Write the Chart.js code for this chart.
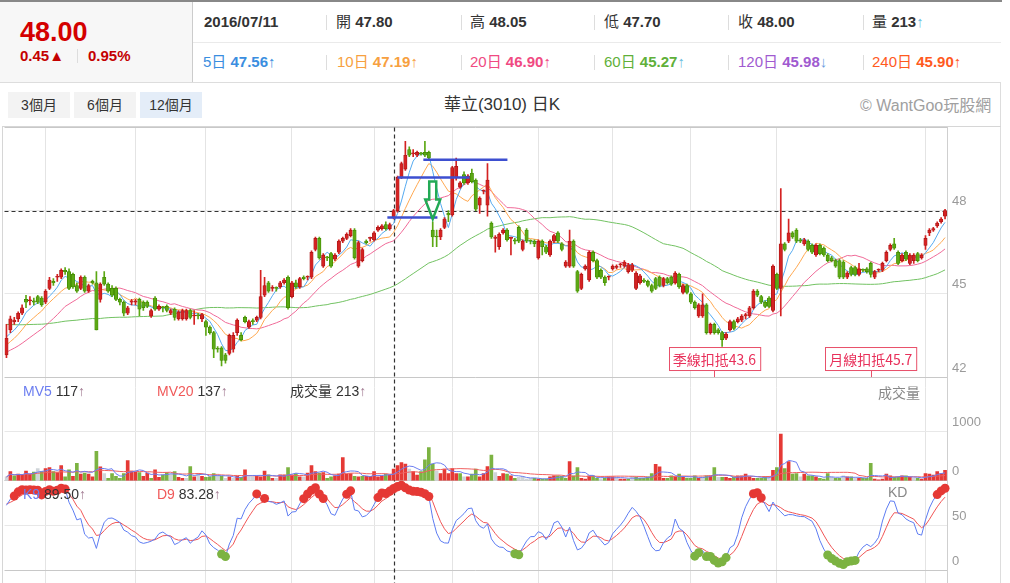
<!DOCTYPE html>
<html lang="zh-Hant">
<head>
<meta charset="UTF-8">
<title>華立(3010) 日K</title>
<script src="https://cdn.jsdelivr.net/npm/chart.js"></script>
<style>
  body { margin: 0; width: 1010px; height: 583px; overflow: hidden; background: #fff; position: relative;
         font-family: "Liberation Sans", "Noto Sans CJK TC", sans-serif; color: #333; }
  .abs { position: absolute; white-space: nowrap; }
  .r1 { top: 12px; line-height: 20px; font-size: 15px; }
  .r2 { top: 52px; line-height: 20px; font-size: 15px; }
  .r1 b, .r2 b { font-weight: bold; }
  .sep { position: absolute; width: 1px; height: 15px; background: #ddd; }
  .btn { position: absolute; top: 92px; width: 62px; height: 26px; line-height: 26px; text-align: center;
         font-size: 14px; background: #f3f3f3; color: #333; }
  .pl { position: absolute; white-space: nowrap; font-size: 14px; line-height: 16px; color: #333; }
  .ar { color: #a07890; }
</style>
</head>
<body>
<!-- header -->
<div class="abs" style="left:0;top:0;width:1002px;height:2px;background:#888"></div>
<div class="abs" style="left:0;top:2px;width:192px;height:80px;background:#f7f7f7;border-right:1px solid #ccc"></div>
<div class="abs" style="left:0;top:82px;width:1001px;height:1px;background:#ddd"></div>
<div class="abs" style="left:193px;top:42px;width:808px;height:1px;background:#eaeaea"></div>
<div class="abs" style="left:1000px;top:82px;width:1px;height:501px;background:#ddd"></div>

<div class="abs" style="left:20px;top:15px;line-height:34px;font-size:27px;font-weight:bold;color:#d40000">48.00</div>
<div class="abs" style="left:20px;top:46px;line-height:20px;font-size:15px;font-weight:bold;color:#c40000">0.45▲</div>
<div class="abs" style="left:77px;top:49px;width:1px;height:14px;background:#ddd"></div>
<div class="abs" style="left:88px;top:46px;line-height:20px;font-size:15px;font-weight:bold;color:#c40000">0.95%</div>

<div class="abs r1" style="left:204px"><b>2016/07/11</b></div>
<div class="abs r1" style="left:336px">開 <b>47.80</b></div>
<div class="abs r1" style="left:470px">高 <b>48.05</b></div>
<div class="abs r1" style="left:604px">低 <b>47.70</b></div>
<div class="abs r1" style="left:738px">收 <b>48.00</b></div>
<div class="abs r1" style="left:872px">量 <b>213</b><span style="color:#6bbde0">↑</span></div>

<div class="abs r2" style="left:203px;color:#3a8ee0">5日 <b>47.56</b>↑</div>
<div class="abs r2" style="left:337px;color:#f7a040">10日 <b>47.19</b>↑</div>
<div class="abs r2" style="left:470px;color:#f04a82">20日 <b>46.90</b>↑</div>
<div class="abs r2" style="left:604px;color:#5fb03a">60日 <b>45.27</b><span style="color:#6bbde0">↑</span></div>
<div class="abs r2" style="left:738px;color:#a05ad0">120日 <b>45.98</b><span style="color:#6b9de0">↓</span></div>
<div class="abs r2" style="left:872px;color:#ff5a1e">240日 <b>45.90</b>↑</div>

<div class="sep" style="left:326px;top:15px"></div><div class="sep" style="left:461px;top:15px"></div>
<div class="sep" style="left:594px;top:15px"></div><div class="sep" style="left:728px;top:15px"></div>
<div class="sep" style="left:863px;top:15px"></div>
<div class="sep" style="left:326px;top:55px"></div><div class="sep" style="left:461px;top:55px"></div>
<div class="sep" style="left:594px;top:55px"></div><div class="sep" style="left:728px;top:55px"></div>
<div class="sep" style="left:863px;top:55px"></div>

<div class="btn" style="left:8px">3個月</div>
<div class="btn" style="left:74px">6個月</div>
<div class="btn" style="left:140px;background:#e4edf8">12個月</div>
<div class="abs" style="left:0;width:1004px;top:95px;line-height:20px;font-size:17px;text-align:center;color:#333">華立(3010) 日K</div>
<div class="abs" style="left:860px;top:96px;line-height:20px;font-size:16px;color:#a0a0a0">© WantGoo玩股網</div>

<!-- chart frame -->
<div class="abs" style="left:2px;top:126px;width:999px;height:1px;background:#d6d6d6"></div>
<div class="abs" style="left:2px;top:126px;width:1px;height:457px;background:#d6d6d6"></div>
<div class="abs" style="left:0;top:123px"><canvas id="kchart" width="1000" height="528"></canvas></div>

<!-- panel labels -->
<div class="pl" style="left:23px;top:383px"><span style="color:#6c7ef0">MV5</span> 117<span class="ar">↑</span></div>
<div class="pl" style="left:157px;top:383px"><span style="color:#f05a5a">MV20</span> 137<span class="ar">↑</span></div>
<div class="pl" style="left:290px;top:383px">成交量 213<span class="ar">↑</span></div>
<div class="pl" style="left:878px;top:385px;color:#888">成交量</div>
<div class="pl" style="left:23px;top:486px"><span style="color:#6c7ef0">K9</span> 89.50<span class="ar">↑</span></div>
<div class="pl" style="left:157px;top:486px"><span style="color:#f05a5a">D9</span> 83.28<span class="ar">↑</span></div>
<div class="pl" style="left:888px;top:484px;color:#888">KD</div>

<script>
// daily OHLC, 2015/07 - 2016/07/11
const opens = [
  42.8,43.7,44.0,44.1,44.3,44.8,44.75,44.75,44.9,44.85,
  44.7,45.2,45.45,45.6,45.6,45.85,45.8,45.7,45.3,45.2,
  45.6,45.1,45.45,45.4,44.8,45.6,45.35,45.2,45.2,44.8,
  44.7,44.3,44.7,44.7,44.8,44.7,44.7,44.2,44.85,44.45,
  44.5,44.55,44.3,44.45,44.1,44.1,44.1,44.4,44.2,44.2,
  44.1,44.0,43.8,43.6,43.0,43.05,42.8,42.85,43.0,43.6,
  43.5,44.15,43.8,44.0,44.05,44.15,44.95,45.4,45.2,45.2,
  45.25,45.4,45.6,44.9,45.4,45.25,45.6,45.6,45.6,46.6,
  47.0,46.0,46.3,46.45,46.25,46.5,46.9,47.0,47.1,47.3,
  46.0,46.2,46.9,47.0,46.95,47.3,47.35,47.5,47.35,47.75,
  48.0,49.2,49.5,50.2,50.05,50.0,50.05,50.1,50.1,47.3,
  47.05,47.05,47.4,47.9,47.85,49.2,48.85,49.3,49.0,49.35,
  49.1,48.2,48.7,48.2,47.55,47.0,46.7,47.2,47.3,47.0,
  46.95,47.4,46.6,47.3,46.9,46.9,46.3,46.9,46.7,46.4,
  46.9,47.2,46.8,46.0,46.0,46.9,45.8,45.2,45.9,45.5,
  46.5,46.2,45.85,45.6,45.6,45.9,45.95,46.05,46.0,45.8,
  45.85,45.2,45.4,45.5,45.45,45.3,45.55,45.6,45.3,45.55,
  45.6,45.4,45.7,45.05,45.3,45.0,44.7,44.2,44.2,44.6,
  43.6,43.9,43.7,43.6,43.4,43.7,44.0,44.0,44.05,44.2,
  44.2,44.5,45.1,44.9,44.7,44.85,44.4,45.7,45.2,46.8,
  46.9,47.2,47.3,46.95,46.8,46.9,46.75,46.4,46.75,46.65,
  46.4,46.3,46.2,46.2,46.15,45.6,45.95,45.95,45.7,45.85,
  45.9,46.1,45.6,45.85,45.85,46.2,46.6,46.8,46.5,46.2,
  46.5,46.1,46.2,46.45,46.3,46.75,47.2,47.3,47.45,47.6,47.8
];
const highs = [
  43.9,44.2,44.15,44.35,44.6,44.95,44.9,44.85,44.95,44.9,
  45.15,45.6,45.55,45.7,45.9,45.95,45.9,45.75,45.4,45.65,
  45.65,45.35,45.5,45.8,45.4,45.8,45.4,45.3,45.25,44.85,
  44.75,44.55,44.8,44.8,44.85,44.75,44.75,44.45,44.9,44.6,
  44.55,44.6,44.45,44.5,44.4,44.45,44.45,44.45,44.4,44.3,
  44.3,44.05,43.85,43.65,43.1,43.1,42.85,43.55,43.6,44.1,
  43.6,44.2,44.05,44.1,44.2,45.85,45.6,45.45,45.3,45.25,
  45.45,45.55,45.65,45.45,45.5,45.6,45.65,45.65,46.55,47.05,
  47.05,46.45,46.35,46.5,46.45,46.95,47.05,47.2,47.35,47.35,
  46.9,46.65,46.95,47.05,47.25,47.45,47.5,47.6,47.55,48.05,
  49.25,49.75,50.5,50.3,50.2,50.15,50.1,50.5,50.15,47.6,
  47.3,47.35,47.75,48.0,49.6,49.9,49.05,49.4,49.3,49.5,
  49.15,48.5,48.75,49.7,47.6,47.1,47.2,47.35,47.35,47.05,
  47.0,47.45,46.95,47.35,46.95,46.95,46.95,46.95,46.75,46.95,
  47.15,47.25,46.85,46.2,47.3,46.95,45.85,45.75,46.05,46.55,
  46.55,46.25,45.9,45.65,45.65,46.05,46.05,46.1,46.2,46.1,
  46.1,45.8,45.7,45.55,45.5,45.35,45.6,45.65,45.6,45.6,
  45.65,45.8,45.75,45.35,45.35,45.05,44.75,44.65,45.0,44.65,
  43.95,43.95,43.75,43.65,43.6,44.05,44.05,44.15,44.25,44.3,
  44.55,45.15,45.15,44.95,44.75,44.9,46.05,45.75,48.8,46.85,
  47.7,47.25,47.35,47.0,47.0,46.95,46.8,46.8,46.8,46.7,
  46.45,46.35,46.25,46.25,46.2,45.8,46.0,46.0,46.1,45.9,
  45.95,46.15,45.85,45.9,46.15,46.55,46.8,47.0,46.55,46.45,
  46.55,46.45,46.45,46.5,46.45,47.1,47.35,47.4,47.6,47.75,48.05
];
const lows = [
  42.7,43.6,43.9,44.0,44.25,44.5,44.6,44.6,44.65,44.55,
  44.65,45.15,45.3,45.45,45.55,45.7,45.15,45.2,45.05,45.15,
  45.05,45.05,45.35,43.7,44.7,45.3,45.05,44.9,44.75,44.6,
  44.2,44.25,44.6,44.6,44.2,44.4,44.5,44.15,44.4,44.4,
  44.35,44.35,44.25,44.05,44.05,44.05,44.05,44.1,43.9,44.1,
  44.0,43.5,43.55,42.7,42.9,42.4,42.5,42.8,42.9,43.5,
  43.3,43.95,43.75,43.9,44.0,44.1,44.9,45.05,45.1,45.1,
  45.2,45.35,44.45,44.85,45.2,45.2,45.5,45.5,45.55,46.55,
  46.25,45.95,46.2,45.95,46.2,46.45,46.85,46.95,47.05,46.25,
  45.95,46.15,46.8,46.9,46.9,47.25,47.3,47.3,47.3,47.7,
  47.95,49.15,49.45,49.95,49.95,49.95,50.0,49.95,49.85,46.7,
  46.7,46.95,47.35,47.6,47.8,49.1,48.8,48.95,48.95,49.0,
  48.0,47.9,48.6,47.8,47.0,46.5,46.6,47.15,46.9,46.4,
  46.8,46.85,46.55,46.85,46.8,46.7,46.25,46.4,46.45,46.35,
  46.85,46.85,46.55,45.95,45.95,45.95,45.05,45.15,45.85,45.45,
  46.15,45.55,45.55,45.3,45.5,45.85,45.9,45.95,45.95,45.75,
  45.8,45.15,45.35,45.4,45.25,45.05,45.15,45.25,45.25,45.35,
  45.3,45.35,45.2,45.0,45.0,44.65,44.45,44.15,44.15,43.55,
  43.55,43.55,43.55,43.1,43.35,43.65,43.7,43.95,44.0,44.1,
  44.15,44.45,44.9,44.65,44.5,44.5,44.35,45.15,44.2,46.55,
  46.85,47.0,46.85,46.85,46.75,46.55,46.45,46.35,46.4,46.35,
  46.15,46.15,45.95,45.55,45.55,45.55,45.65,45.65,45.65,45.8,
  45.75,45.6,45.55,45.8,45.8,46.15,46.55,46.6,46.05,46.15,
  46.2,46.05,46.1,46.15,46.25,46.6,47.1,47.25,47.4,47.55,47.7
];
const closes = [
  43.4,44.1,44.05,44.3,44.5,44.7,44.75,44.7,44.7,44.6,
  45.1,45.5,45.4,45.6,45.85,45.8,45.2,45.25,45.1,45.6,
  45.1,45.3,45.4,43.7,45.35,45.35,45.1,44.95,44.8,44.7,
  44.3,44.5,44.7,44.75,44.45,44.5,44.55,44.4,44.45,44.55,
  44.5,44.4,44.4,44.15,44.35,44.4,44.4,44.15,44.2,44.2,
  44.25,43.8,43.6,43.0,43.0,42.6,42.6,43.5,43.5,44.05,
  43.35,44.0,44.0,44.0,44.15,44.9,45.3,45.1,45.2,45.2,
  45.4,45.5,44.5,45.4,45.25,45.55,45.55,45.6,46.5,47.0,
  46.3,46.4,46.3,46.0,46.4,46.9,47.0,47.15,47.3,46.3,
  46.85,46.6,46.85,47.0,47.2,47.4,47.45,47.35,47.5,48.0,
  49.2,49.7,50.0,50.0,50.05,50.1,50.05,50.0,49.9,47.05,
  47.05,47.3,47.7,47.85,49.55,49.6,49.0,49.0,49.25,49.05,
  48.05,48.45,48.7,49.1,47.05,47.05,47.15,47.3,46.95,47.0,
  46.9,46.9,46.9,46.9,46.9,46.8,46.9,46.7,46.5,46.9,
  47.1,46.9,46.6,46.15,46.9,46.0,45.1,45.7,46.0,46.5,
  46.2,45.6,45.6,45.4,45.6,46.0,46.0,46.05,46.15,46.05,
  46.05,45.75,45.65,45.45,45.3,45.1,45.2,45.3,45.55,45.4,
  45.35,45.75,45.25,45.3,45.05,44.7,44.5,44.6,44.6,43.6,
  43.9,43.6,43.6,43.35,43.55,44.0,43.75,44.1,44.2,44.25,
  44.5,45.1,44.95,44.7,44.55,44.55,46.0,45.2,46.8,46.6,
  47.2,47.05,46.9,46.9,46.95,46.6,46.5,46.75,46.45,46.4,
  46.2,46.2,46.0,45.6,45.6,45.75,45.7,45.7,45.9,45.85,
  45.8,45.7,45.8,45.85,46.1,46.5,46.75,46.65,46.1,46.4,
  46.25,46.4,46.4,46.2,46.4,47.0,47.3,47.35,47.55,47.7,48.0
];
// 成交量 (lots)
const volumes = [
  80,190,100,140,120,200,140,180,250,190,
  250,270,190,170,310,80,225,90,355,140,
  160,140,80,600,285,150,50,150,90,50,
  150,415,200,180,170,90,160,50,225,70,
  115,170,140,190,70,50,50,290,80,150,
  90,70,80,150,140,90,50,80,50,90,
  70,225,80,80,90,80,200,120,50,50,
  120,120,270,120,150,80,80,160,310,190,
  160,170,50,80,100,140,475,140,150,90,
  80,90,90,90,190,80,90,140,120,240,
  310,375,340,240,190,115,190,430,680,340,
  200,150,240,150,250,150,150,80,80,140,
  240,80,150,290,525,170,90,150,140,100,
  50,70,90,35,50,50,35,35,35,80,
  100,100,90,50,395,100,270,50,35,100,
  100,50,35,50,80,80,80,35,35,35,
  90,70,50,50,80,150,335,285,50,50,
  100,80,140,70,55,50,100,50,80,100,
  100,270,70,70,70,50,80,100,100,140,
  80,50,50,50,80,80,215,270,955,250,
  395,140,150,80,140,100,100,80,50,35,
  150,80,50,50,100,80,80,50,50,50,
  50,355,35,20,35,140,100,70,70,100,
  100,70,50,50,35,150,140,115,190,150,213
];
// closes before the first visible day, estimated from where the MA lines start
const priorCloses = [
  44.45,44.45,44.45,44.45,44.45,44.45,44.45,44.45,44.45,44.45,
  44.45,44.45,44.45,44.45,44.45,44.45,44.45,44.45,44.45,44.45,
  44.45,44.45,44.45,44.45,44.45,44.45,44.45,44.45,44.45,44.45,
  44.25,44.25,44.25,44.25,44.25,44.25,44.25,44.25,44.25,44.25,
  42.64,42.64,42.64,42.64,42.64,42.64,42.64,42.64,42.64,42.64,
  42.86,42.86,42.86,42.86,42.86,43.46,43.46,43.46,43.46
];
const monthLines = [10, 33, 51, 73, 94, 114, 136, 155, 175, 197, 235];
const priceTicks = [42, 45, 48, 51];
const volTicks = [0, 1000, 2000];
const kdTicks = [0, 50, 100];

const days = closes.map((c, i) => String(i));
const n = closes.length;
const cursorDay = 99;

// hand drawn marks on the chart, in (day, price) units
const drawnLines = [
  { from: 106.6, to: 128.1, price: 49.84 },
  { from: 100.0, to: 118.4, price: 49.2 },
  { from: 97.4, to: 110.2, price: 47.75 }
];
const drawnArrow = { day: 109, top: 49.05, neck: 48.4, tip: 47.7 };

function movingAvg(src, pre, p) {
  const all = pre.concat(src);
  return src.map((v, i) => {
    const end = pre.length + i;
    const start = Math.max(0, end - p + 1);
    let s = 0;
    for (let j = start; j <= end; j++) s += all[j];
    return +(s / (end - start + 1)).toFixed(3);
  });
}

// KD(9)
const kLine = [], dLine = [];
let k = 80, d = 75;
for (let i = 0; i < n; i++) {
  let hh = -Infinity, ll = Infinity;
  for (let j = Math.max(0, i - 8); j <= i; j++) { hh = Math.max(hh, highs[j]); ll = Math.min(ll, lows[j]); }
  const rsv = hh === ll ? 50 : (closes[i] - ll) / (hh - ll) * 100;
  k = k * 2 / 3 + rsv / 3;
  d = d * 2 / 3 + k / 3;
  kLine.push(+k.toFixed(2));
  dLine.push(+d.toFixed(2));
}

const up = closes.map((c, i) => c > opens[i] || (c === opens[i] && i > 0 && c > closes[i - 1]));
const bodyFill = up.map(u => u ? '#d42222' : '#5ca814');
const bodyEdge = up.map(u => u ? '#a81515' : '#3f8a00');
const volColor = closes.map((c, i) => i === 0 || c === closes[i - 1] ? '#cfd4d8' : (c > closes[i - 1] ? '#e53935' : '#7cb342'));

const overlay = {
  id: 'overlay',
  beforeDatasetsDraw(chart) {
    const { ctx, chartArea, scales } = chart;
    const py = scales.y;
    ctx.save();
    ctx.strokeStyle = '#333';
    ctx.lineWidth = 1.2;
    ctx.setLineDash([4, 3]);
    const yl = Math.round(py.getPixelForValue(closes[n - 1])) + 0.5;
    ctx.beginPath(); ctx.moveTo(chartArea.left, yl); ctx.lineTo(chartArea.right, yl); ctx.stroke();
    const xc = Math.round(scales.x.getPixelForValue(cursorDay)) + 0.5;
    ctx.beginPath(); ctx.moveTo(xc, chartArea.top); ctx.lineTo(xc, chartArea.bottom); ctx.stroke();
    ctx.restore();
  },
  afterDatasetsDraw(chart) {
    const { ctx, scales } = chart;
    const x = scales.x, y = scales.y;
    ctx.save();
    // blue lines
    ctx.strokeStyle = '#3d4fd0';
    ctx.lineWidth = 2.5;
    drawnLines.forEach(l => {
      const yy = y.getPixelForValue(l.price);
      ctx.beginPath(); ctx.moveTo(x.getPixelForValue(l.from), yy); ctx.lineTo(x.getPixelForValue(l.to), yy); ctx.stroke();
    });
    // hollow arrow
    const ax = x.getPixelForValue(drawnArrow.day);
    const yTop = y.getPixelForValue(drawnArrow.top), yNeck = y.getPixelForValue(drawnArrow.neck), yTip = y.getPixelForValue(drawnArrow.tip);
    ctx.strokeStyle = '#22aa55';
    ctx.lineWidth = 2.5;
    ctx.lineJoin = 'miter';
    ctx.beginPath();
    ctx.moveTo(ax - 3.5, yTop); ctx.lineTo(ax + 3.5, yTop); ctx.lineTo(ax + 3.5, yNeck);
    ctx.lineTo(ax + 7.5, yNeck); ctx.lineTo(ax, yTip); ctx.lineTo(ax - 7.5, yNeck);
    ctx.lineTo(ax - 3.5, yNeck); ctx.closePath(); ctx.stroke();
    // 扣抵 labels
    const bottom = y.bottom;
    [['季線扣抵', n - 60], ['月線扣抵', n - 20]].forEach(([name, idx]) => {
      const text = name + closes[idx].toFixed(1);
      ctx.font = '14px "Noto Sans CJK TC", sans-serif';
      const w = ctx.measureText(text).width + 8;
      const cx = x.getPixelForValue(idx);
      const bx = Math.round(cx - w / 2) + 0.5, by = bottom - 29.5;
      ctx.fillStyle = '#fff';
      ctx.fillRect(bx, by, w, 23);
      ctx.strokeStyle = '#e8506a';
      ctx.lineWidth = 1;
      ctx.strokeRect(bx, by, w, 23);
      ctx.beginPath(); ctx.moveTo(Math.round(cx) + 0.5, by + 23); ctx.lineTo(Math.round(cx) + 0.5, bottom); ctx.stroke();
      ctx.fillStyle = '#e8305a';
      ctx.textAlign = 'center';
      ctx.textBaseline = 'middle';
      ctx.fillText(text, cx, by + 12);
    });
    ctx.restore();
  }
};

function fixAxis(s) {
  s.width = 53;
  s.paddingTop = 0;
  s.paddingBottom = 0;
}

function yAxis(weight, min, max, tickValues, shown, boundary, gridless) {
  return {
    position: 'right', stack: 'panels', stackWeight: weight, min: min, max: max,
    afterFit: fixAxis,
    afterBuildTicks: s => { s.ticks = tickValues.map(v => ({ value: v })); },
    border: { color: '#cfcfcf' },
    grid: { drawTicks: false,
            color: c => gridless.includes(c.tick.value) ? 'rgba(0,0,0,0)' : (boundary.includes(c.tick.value) ? '#c8c8c8' : '#e8e8e8') },
    ticks: {
      autoSkip: false, padding: 5, labelOffset: -9, color: '#9a9a9a', font: { size: 13 },
      callback: v => shown.includes(v) ? String(v) : ''
    }
  };
}

Chart.defaults.font.family = '"Liberation Sans", "Noto Sans CJK TC", sans-serif';
new Chart(document.getElementById('kchart'), {
  data: {
    labels: days,
    datasets: [
      { type: 'line', data: kLine.map(v => v >= 80 ? v : null), yAxisID: 'yKD', showLine: false, order: 0,
        pointRadius: 4.5, pointBackgroundColor: '#e53935', pointBorderWidth: 0 },
      { type: 'line', data: kLine.map(v => v <= 20 ? v : null), yAxisID: 'yKD', showLine: false, order: 0,
        pointRadius: 4.5, pointBackgroundColor: '#7cb342', pointBorderWidth: 0 },
      { type: 'bar', data: opens.map((o, i) => [o, closes[i]]), yAxisID: 'y', order: 1, grouped: false,
        barThickness: 3.4, minBarLength: 1, backgroundColor: bodyFill, borderColor: bodyEdge,
        borderWidth: 0.7, borderSkipped: false },
      { type: 'bar', data: lows.map((l, i) => [l, highs[i]]), yAxisID: 'y', order: 2, grouped: false,
        barThickness: 1, backgroundColor: bodyFill },
      { type: 'line', data: kLine, yAxisID: 'yKD', order: 3, borderColor: '#5d7cf2', borderWidth: 1, pointRadius: 0 },
      { type: 'line', data: dLine, yAxisID: 'yKD', order: 3, borderColor: '#f05555', borderWidth: 1, pointRadius: 0 },
      { type: 'line', data: movingAvg(volumes, [], 5), yAxisID: 'yVol', order: 4, borderColor: '#6c7ef0', borderWidth: 1, pointRadius: 0 },
      { type: 'line', data: movingAvg(volumes, [], 20), yAxisID: 'yVol', order: 4, borderColor: '#f06060', borderWidth: 1, pointRadius: 0 },
      { type: 'line', data: movingAvg(closes, priorCloses, 5), yAxisID: 'y', order: 5, borderColor: '#55aaf0', borderWidth: 1, pointRadius: 0 },
      { type: 'line', data: movingAvg(closes, priorCloses, 10), yAxisID: 'y', order: 5, borderColor: '#ffa850', borderWidth: 1, pointRadius: 0 },
      { type: 'line', data: movingAvg(closes, priorCloses, 20), yAxisID: 'y', order: 5, borderColor: '#f06a98', borderWidth: 1, pointRadius: 0 },
      { type: 'line', data: movingAvg(closes, priorCloses, 60), yAxisID: 'y', order: 5, borderColor: '#72c262', borderWidth: 1, pointRadius: 0 },
      { type: 'bar', data: volumes, yAxisID: 'yVol', order: 6, grouped: false, barThickness: 3,
        backgroundColor: volColor }
    ]
  },
  options: {
    responsive: false,
    animation: false,
    events: [],
    layout: { padding: { left: 3, right: 0, top: 0, bottom: 0 } },
    plugins: { legend: { display: false }, tooltip: { enabled: false } },
    scales: {
      x: {
        type: 'category', offset: true,
        afterFit: s => { s.height = 0; s.paddingLeft = 0; s.paddingRight = 0; },
        border: { display: false },
        ticks: { display: false, autoSkip: false },
        grid: { offset: false, drawTicks: false, color: c => monthLines.includes(c.index) ? '#e4e4e4' : 'rgba(0,0,0,0)' }
      },
      y: yAxis(250, 42, 51, priceTicks, [42, 45, 48], [42, 51], []),
      yVol: yAxis(104, 0, 2120, volTicks, [0, 1000], [0], [2000]),
      yKD: yAxis(90, 0, 100, kdTicks, [0, 50], [0, 100], []),
      yRest: { position: 'right', stack: 'panels', stackWeight: 76, min: 0, max: 1,
               afterFit: fixAxis, border: { color: '#cfcfcf' },
               ticks: { display: false }, grid: { display: false } }
    }
  },
  plugins: [overlay]
});
</script>
</body>
</html>
